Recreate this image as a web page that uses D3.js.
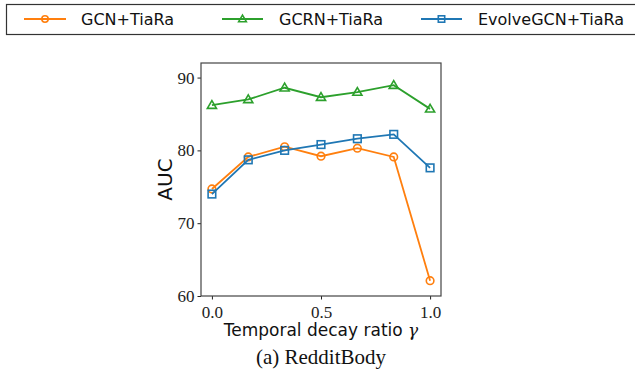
<!DOCTYPE html>
<html>
<head>
<meta charset="utf-8">
<script src="https://cdn.jsdelivr.net/npm/d3@7"></script>
<style>
  body { margin: 0; background: #fff; }
  svg { display: block; }
</style>
</head>
<body>
<svg width="635" height="377"></svg>
<script>
// decay ratios on x axis
var ratios = [0, 1/6, 1/3, 0.5, 2/3, 5/6, 1];
var gcn = [74.7, 79.1, 80.5, 79.2, 80.3, 79.1, 62.1];
var gcrn = [86.2, 87.0, 88.6, 87.3, 88.0, 88.95, 85.7];
var evolve = [74.0, 78.7, 80.0, 80.8, 81.6, 82.2, 77.6];
var xTicks = [0, 0.5, 1.0];
var yTicks = [60, 70, 80, 90];

var series = [
    {name: 'GCN+TiaRa', vals: gcn, color: '#ff7f0e', marker: 'circle'},
    {name: 'GCRN+TiaRa', vals: gcrn, color: '#2ca02c', marker: 'triangle'},
    {name: 'EvolveGCN+TiaRa', vals: evolve, color: '#1f77b4', marker: 'square'}
];

var svg = d3.select('svg');
var pLeft = 201, pRight = 441, pTop = 63, pBottom = 296;

var x = d3.scaleLinear().domain([-0.05, 1.05]).range([pLeft, pRight]);
var y = d3.scaleLinear().domain([60, 92]).range([pBottom, pTop]);

// legend box
svg.append('rect')
    .attr('x', 6.5).attr('y', 4.5)
    .attr('width', 640).attr('height', 30)
    .style('fill', 'white').style('stroke', '#333').style('stroke-width', 1.2);

var legX = [[24, 66, 81], [222, 263, 279], [421, 462, 478]];

function drawMarker(g, type, cx, cy, color, s) {
    if (type === 'circle') {
        g.append('circle').attr('cx', cx).attr('cy', cy).attr('r', s)
            .style('fill', 'none').style('stroke', color).style('stroke-width', 1.6);
    } else if (type === 'square') {
        g.append('rect').attr('x', cx - s).attr('y', cy - s)
            .attr('width', 2 * s).attr('height', 2 * s)
            .style('fill', 'none').style('stroke', color).style('stroke-width', 1.6);
    } else {
        var h = s * 1.2;
        g.append('path')
            .attr('d', 'M' + cx + ',' + (cy - h) + 'L' + (cx + h) + ',' + (cy + h * 0.7) + 'L' + (cx - h) + ',' + (cy + h * 0.7) + 'Z')
            .style('fill', 'none').style('stroke', color).style('stroke-width', 1.6);
    }
}

series.forEach(function(s, i) {
    var g = svg.append('g');
    g.append('line')
        .attr('x1', legX[i][0]).attr('x2', legX[i][1])
        .attr('y1', 19).attr('y2', 19)
        .style('stroke', s.color).style('stroke-width', 1.8);
    drawMarker(g, s.marker, (legX[i][0] + legX[i][1]) / 2, 19, s.color, 3.2);
    g.append('text')
        .attr('x', legX[i][2]).attr('y', 25)
        .style('font-family', 'DejaVu Sans').style('font-size', '16px')
        .style('fill', '#111')
        .text(s.name);
});

// axes
var xAxis = d3.axisBottom(x).tickValues(xTicks).tickFormat(d3.format('.1f')).tickSize(3.5);
var yAxis = d3.axisLeft(y).tickValues(yTicks).tickSize(3.5);

var gx = svg.append('g').attr('transform', 'translate(0,' + pBottom + ')').call(xAxis);
var gy = svg.append('g').attr('transform', 'translate(' + pLeft + ',0)').call(yAxis);
[gx, gy].forEach(function(g) {
    g.select('.domain').remove();
    g.selectAll('.tick line').style('stroke', '#222');
    g.selectAll('text')
        .style('font-family', 'Liberation Serif')
        .style('font-size', '17px')
        .style('fill', '#222');
});
gx.selectAll('text').attr('dy', '0.9em');

// frame
svg.append('rect')
    .attr('x', pLeft).attr('y', pTop)
    .attr('width', pRight - pLeft).attr('height', pBottom - pTop)
    .style('fill', 'none').style('stroke', '#444').style('stroke-width', 1.2);

var line = d3.line()
    .x(function(d, i) { return x(ratios[i]); })
    .y(function(d) { return y(d); });

series.forEach(function(s) {
    var g = svg.append('g');
    g.append('path').datum(s.vals)
        .attr('d', line)
        .style('fill', 'none').style('stroke', s.color).style('stroke-width', 1.8);
    s.vals.forEach(function(v, i) {
        drawMarker(g, s.marker, x(ratios[i]), y(v), s.color, 3.8);
    });
});

// labels
svg.append('text')
    .attr('transform', 'translate(172,' + ((pTop + pBottom) / 2) + ') rotate(-90)')
    .attr('text-anchor', 'middle')
    .style('font-family', 'DejaVu Sans').style('font-size', '20px')
    .style('fill', '#111')
    .text('AUC');

var xl = svg.append('text')
    .attr('x', 321).attr('y', 336)
    .attr('text-anchor', 'middle')
    .style('font-family', 'DejaVu Sans').style('font-size', '17px')
    .style('fill', '#111');
xl.append('tspan').text('Temporal decay ratio ');
xl.append('tspan').style('font-family', 'DejaVu Serif').style('font-style', 'italic').text('\u03b3');

svg.append('text')
    .attr('x', 321).attr('y', 364)
    .attr('text-anchor', 'middle')
    .style('font-family', 'Liberation Serif').style('font-size', '21px')
    .style('fill', '#111')
    .text('(a) RedditBody');
</script>
</body>
</html>
